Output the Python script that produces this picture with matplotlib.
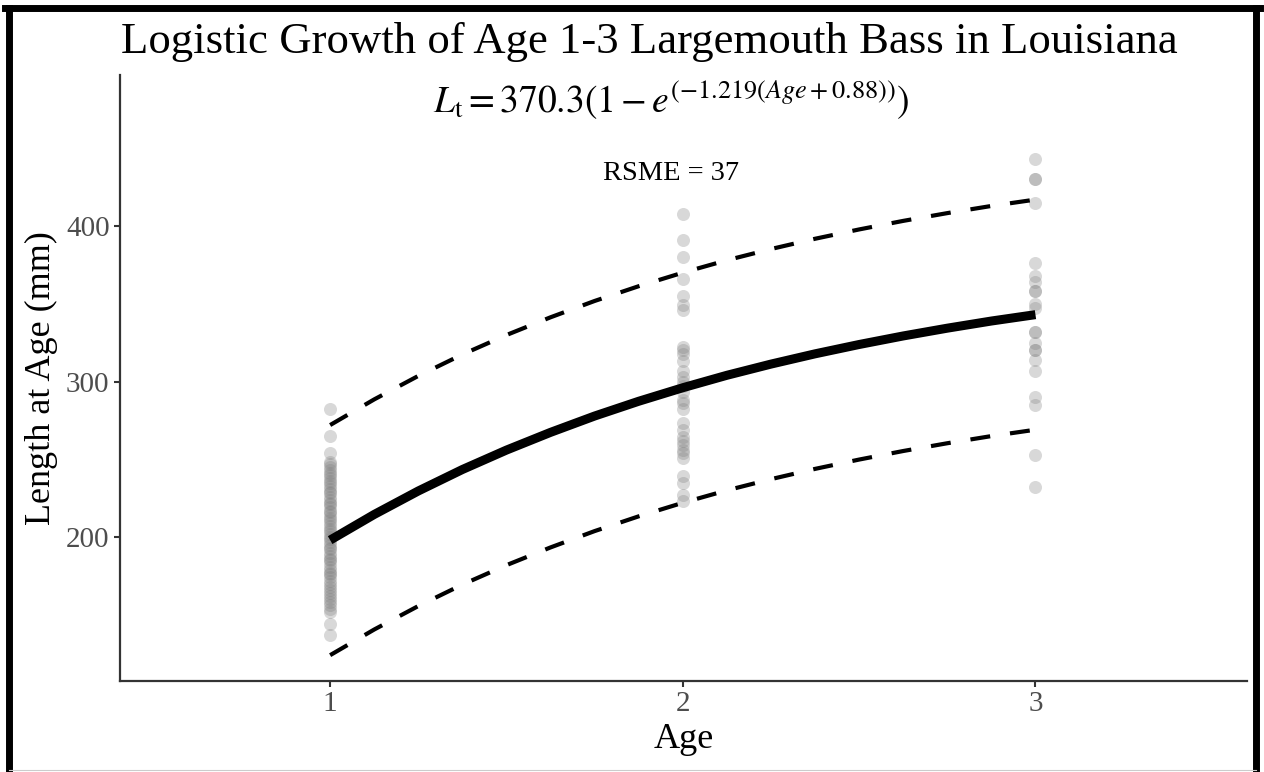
import numpy as np
import matplotlib
matplotlib.use("Agg")
from matplotlib import pyplot as plt
from matplotlib.lines import Line2D

plt.rcParams['font.family'] = ['Liberation Serif', 'DejaVu Serif']
plt.rcParams['mathtext.fontset'] = 'stix'

# length-at-age observations (mm)
age1_len = [282, 265, 254, 248, 247, 245, 243, 241, 240, 238, 236, 235, 233, 231,
            229, 228, 226, 224, 222, 221, 219, 217, 216, 214, 212, 211, 209, 207,
            205, 204, 202, 200, 199, 197, 195, 193, 192, 190, 188, 186, 185, 183,
            181, 179, 177, 176, 174, 172, 170, 168, 166, 164, 162, 160, 158, 156,
            154, 152, 144, 137]
age2_len = [408, 391, 380, 366, 355, 349, 346, 322, 320, 318, 313, 307, 303, 300,
            297, 293, 288, 286, 282, 273, 269, 264, 262, 259, 256, 254, 251, 239,
            235, 227, 223]
age3_len = [443, 430, 430, 415, 376, 368, 364, 358, 358, 350, 347, 332, 332, 325,
            320, 320, 314, 307, 290, 285, 253, 232]

# fitted growth curve and +/- 2*RSME band
curve_age = [1.0, 1.125, 1.25, 1.375, 1.5, 1.625, 1.75, 1.875, 2.0,
             2.125, 2.25, 2.375, 2.5, 2.625, 2.75, 2.875, 3.0]
curve_fit = [198, 214.5, 229.6, 243.4, 255.9, 267.3, 277.8, 287.3, 296,
             304.0, 311.2, 317.8, 323.8, 329.3, 334.3, 338.9, 343]
curve_upper = [272, 288.5, 303.6, 317.4, 329.9, 341.3, 351.8, 361.3, 370,
               378.0, 385.2, 391.8, 397.8, 403.3, 408.3, 412.9, 417]
curve_lower = [124, 140.5, 155.6, 169.4, 181.9, 193.3, 203.8, 213.3, 222,
               230.0, 237.2, 243.8, 249.8, 255.3, 260.3, 264.9, 269]

fig = plt.figure(figsize=(12.64, 7.72), dpi=100)
ax = fig.add_axes([0.0949, 0.1179, 0.8917, 0.7849])

pt_kw = dict(s=88, color='#7f7f7f', alpha=0.3, linewidths=0, zorder=1)
ax.scatter(np.full(len(age1_len), 1.0), age1_len, **pt_kw)
ax.scatter(np.full(len(age2_len), 2.0), age2_len, **pt_kw)
ax.scatter(np.full(len(age3_len), 3.0), age3_len, **pt_kw)

ax.plot(curve_age, curve_fit, color='black', lw=6.5, solid_capstyle='butt',
        solid_joinstyle='round', zorder=3)
for band in (curve_upper, curve_lower):
    ax.plot(curve_age, band, color='black', lw=3, dashes=(4.8, 4.8),
            dash_capstyle='butt', zorder=2)

ax.text(1.967, 472.7,
        r'$L_{\mathrm{t}} = 370.3\left(1 - e^{\left(-1.219\left(Age+0.88\right)\right)}\right)$',
        ha='center', va='baseline', fontsize=27)
ax.text(1.967, 429.6, 'RSME = 37', ha='center', va='baseline', fontsize=20.5)

ax.set_xlim(0.404, 3.6)
ax.set_ylim(107.4, 497.1)
ax.set_xticks([1, 2, 3])
ax.set_yticks([200, 300, 400])
ax.tick_params(labelsize=21, labelcolor='#4d4d4d', color='#333333',
               length=4, width=1.5)
for side in ('top', 'right'):
    ax.spines[side].set_visible(False)
for side in ('left', 'bottom'):
    ax.spines[side].set_color('#333333')
    ax.spines[side].set_linewidth(1.6)

ax.set_xlabel('Age', fontsize=26, labelpad=4)
ax.set_ylabel('Length at Age (mm)', fontsize=26, labelpad=6)

fig.text(0.5134, 0.9456, 'Logistic Growth of Age 1-3 Largemouth Bass in Louisiana',
         ha='center', va='center', fontsize=32.2)

# frame around the figure
for xs, ys, lw, col in [([0.0071, 0.0071], [0.0, 0.9896], 5, 'black'),
                        ([0.0040, 0.9965], [0.9896, 0.9896], 5, 'black'),
                        ([0.9937, 0.9937], [0.0, 0.9896], 5, 'black'),
                        ([0.0071, 0.9937], [0.002, 0.002], 0.8, '#cccccc')]:
    fig.add_artist(Line2D(xs, ys, transform=fig.transFigure, lw=lw, color=col))

fig.savefig('out.png', dpi=100)
